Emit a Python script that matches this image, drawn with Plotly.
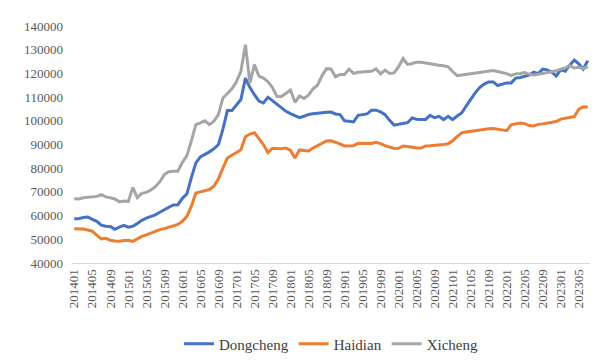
import plotly.graph_objects as go

months = [f"{y}{m:02d}" for y in range(2014, 2024) for m in range(1, 13)][:115]
tick_labels = months[::4]

dongcheng = [58700, 58700, 59200, 59400, 58400, 57600, 56000, 55500, 55400, 54200,
             55100, 55900, 55100, 55500, 56700, 58000, 58900, 59600, 60300, 61400,
             62600, 63500, 64500, 64600, 67300, 69100, 76000, 82200, 84800, 85800,
             86900, 88200, 89900, 96500, 104300, 104300, 106700, 109000, 118000, 114000,
             111000, 108300, 107500, 109900, 108500, 107000, 105500, 104000, 103000, 102300,
             101300, 101900, 102700, 103000, 103300, 103400, 103600, 103700, 102900, 102600,
             100000, 99800, 99500, 102300, 102700, 102900, 104500, 104500, 103800, 102600,
             100200, 98200, 98500, 98800, 99200, 101200, 100700, 100600, 100600, 102300,
             101300, 101900, 100500, 101900, 100500, 102000, 103300, 106200, 109300, 111800,
             114000, 115500, 116400, 116400, 114900, 115500, 116000, 116000, 118000, 118300,
             118700, 119300, 120500, 119900, 121800, 121500, 120500, 118900, 121600, 120900,
             123500, 125600, 124000, 121800, 125400]

haidian = [54500, 54500, 54300, 53900, 53400, 51800, 50200, 50400, 49600, 49300,
           49200, 49500, 49600, 49100, 50200, 51200, 51900, 52700, 53500, 54100,
           54500, 55100, 55700, 56300, 57600, 59700, 64000, 69500, 70000, 70500,
           71000, 72400, 75500, 80000, 84300, 85500, 86500, 87800, 93300, 94400,
           95000, 92500, 90000, 86600, 88400, 88300, 88200, 88500, 87500, 84300,
           87700, 87500, 87300, 88500, 89600, 90500, 91500, 91600, 91000, 90300,
           89400, 89400, 89500, 90500, 90400, 90200, 90400, 90900, 90400, 89500,
           88800, 88300, 88400, 89400, 89200, 88800, 88500, 88500, 89400, 89500,
           89600, 89700, 90000, 90300, 91600, 93300, 94900, 95300, 95600, 95800,
           96000, 96200, 96600, 96700, 96500, 96000, 95800, 98300, 98700, 99100,
           98800, 98000, 97800, 98500, 98700, 99000, 99300, 99700, 100700, 101000,
           101600, 101800, 104800, 105900, 105800]

xicheng = [67100, 67000, 67500, 67700, 67700, 68100, 68800, 67900, 67500, 67000,
           65800, 66200, 66000, 71900, 67600, 69400, 69800, 70800, 72200, 74300,
           77300, 78500, 78700, 78700, 82500, 85200, 91500, 98400, 99100, 100000,
           98400, 99800, 102600, 109600, 111500, 113500, 116500, 120900, 132100, 116000,
           123700, 118800, 118000, 116500, 114000, 110300, 110300, 111500, 113000, 107800,
           110500, 109400, 110800, 113500, 115000, 119000, 122000, 121900, 118600, 119500,
           119500, 121800, 120000, 120500, 120600, 120600, 120900, 121900, 119800, 121400,
           120000, 120200, 122800, 126300, 123800, 124200, 124700, 124700, 124300, 124000,
           123700, 123400, 123200, 122800, 120800, 119000, 119300, 119500, 119800, 120100,
           120400, 120700, 121000, 121200, 120800, 120500, 119900, 119100, 119800, 120000,
           120400, 119600, 119300, 119600, 120000, 120300, 120600, 121100, 121800, 122300,
           123300, 122300, 122600, 122100, 122800]

series = [("Dongcheng", dongcheng, "#4472C4"),
          ("Haidian", haidian, "#ED7D31"),
          ("Xicheng", xicheng, "#A5A5A5")]

fig = go.Figure()
for name, vals, color in series:
    fig.add_trace(go.Scatter(x=months, y=vals, mode="lines", name=name,
                             line=dict(color=color, width=3)))

font_family = "Liberation Serif, Times New Roman, serif"
fig.update_layout(
    width=600, height=360,
    margin=dict(l=64, r=18, t=18, b=105, autoexpand=False),
    paper_bgcolor="white", plot_bgcolor="white",
    font=dict(family=font_family, size=13, color="#595959"),
    showlegend=True,
    legend=dict(orientation="h", x=0.5, xanchor="center", y=-0.342, yanchor="middle",
                font=dict(family=font_family, size=15, color="#404040"),
                itemwidth=30, tracegroupgap=0),
)
fig.update_xaxes(type="category", categoryorder="array", categoryarray=months,
                 tickmode="array", tickvals=tick_labels, ticktext=tick_labels,
                 tickangle=-90, range=[-0.5, len(months) - 0.5], automargin=False,
                 showline=True, linecolor="#D9D9D9", linewidth=1,
                 showgrid=False, zeroline=False, ticks="",
                 tickfont=dict(family=font_family, size=13, color="#595959"))
fig.update_yaxes(range=[40000, 140000], dtick=10000, tick0=40000, automargin=False,
                 showgrid=False, zeroline=False, showline=False, ticks="",
                 tickformat="d", ticklabelstandoff=8,
                 tickfont=dict(family=font_family, size=13, color="#595959"))

fig.write_html("out.html")
